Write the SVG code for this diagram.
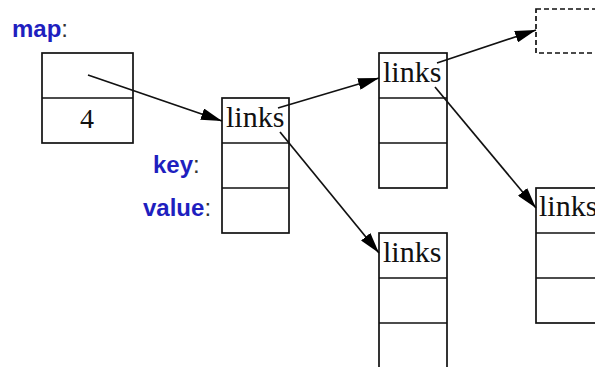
<svg xmlns="http://www.w3.org/2000/svg" width="595" height="367" viewBox="0 0 595 367">
<style>
.box{fill:#fff;stroke:#111;stroke-width:1.7}
.dash{fill:none;stroke:#111;stroke-width:1.7;stroke-dasharray:5 3}
.div{stroke:#111;stroke-width:1.7}
.lk{font-family:"Liberation Serif",serif;font-size:30px;fill:#111}
.num{font-family:"Liberation Serif",serif;font-size:28px;fill:#111}
.lbl{font-family:"Liberation Sans",Arial,sans-serif;font-size:24px;font-weight:bold;fill:#1f1fbf}
.col{font-weight:normal;fill:#333}
.arr{fill:none;stroke:#111;stroke-width:1.7;marker-end:url(#ah)}
</style>
<defs>
<marker id="ah" markerUnits="userSpaceOnUse" markerWidth="21" markerHeight="12" refX="21" refY="6" orient="auto">
<path d="M0,0 L21,6 L0,12 z" fill="#000"/>
</marker>
</defs>
<rect width="595" height="367" fill="#fff"/>
<g id="map">
<text class="lbl" x="12" y="37">map<tspan class="col">:</tspan></text>
<rect class="box" x="42" y="53" width="91" height="90"/>
<line class="div" x1="42" y1="98" x2="133" y2="98"/>
<text class="num" x="87" y="128" text-anchor="middle">4</text>
</g>
<g id="node1">
<rect class="box" x="222" y="98" width="67" height="135"/>
<line class="div" x1="222" y1="143" x2="289" y2="143"/>
<line class="div" x1="222" y1="188" x2="289" y2="188"/>
<text class="lk" x="226" y="127">links</text>
<text class="lbl" x="153" y="173">key<tspan class="col">:</tspan></text>
<text class="lbl" x="143" y="216">value<tspan class="col">:</tspan></text>
</g>
<g id="node2">
<rect class="box" x="379" y="53" width="68" height="135"/>
<line class="div" x1="379" y1="98" x2="447" y2="98"/>
<line class="div" x1="379" y1="143" x2="447" y2="143"/>
<text class="lk" x="383" y="82">links</text>
</g>
<g id="node3">
<rect class="box" x="379" y="233" width="68" height="140"/>
<line class="div" x1="379" y1="278" x2="447" y2="278"/>
<line class="div" x1="379" y1="323" x2="447" y2="323"/>
<text class="lk" x="383" y="262">links</text>
</g>
<g id="node4">
<rect class="box" x="536" y="188" width="70" height="135"/>
<line class="div" x1="536" y1="233" x2="606" y2="233"/>
<line class="div" x1="536" y1="278" x2="606" y2="278"/>
<text class="lk" x="539" y="216">links</text>
</g>
<g id="node5">
<rect class="dash" x="536" y="9" width="70" height="44"/>
</g>
<g id="connectors">
<line class="arr" x1="88" y1="75" x2="222" y2="121"/>
<line class="arr" x1="278" y1="108" x2="379" y2="78"/>
<line class="arr" x1="280" y1="132" x2="379" y2="253"/>
<line class="arr" x1="437" y1="63" x2="536" y2="30"/>
<line class="arr" x1="435" y1="87" x2="536" y2="208"/>
</g>
</svg>
